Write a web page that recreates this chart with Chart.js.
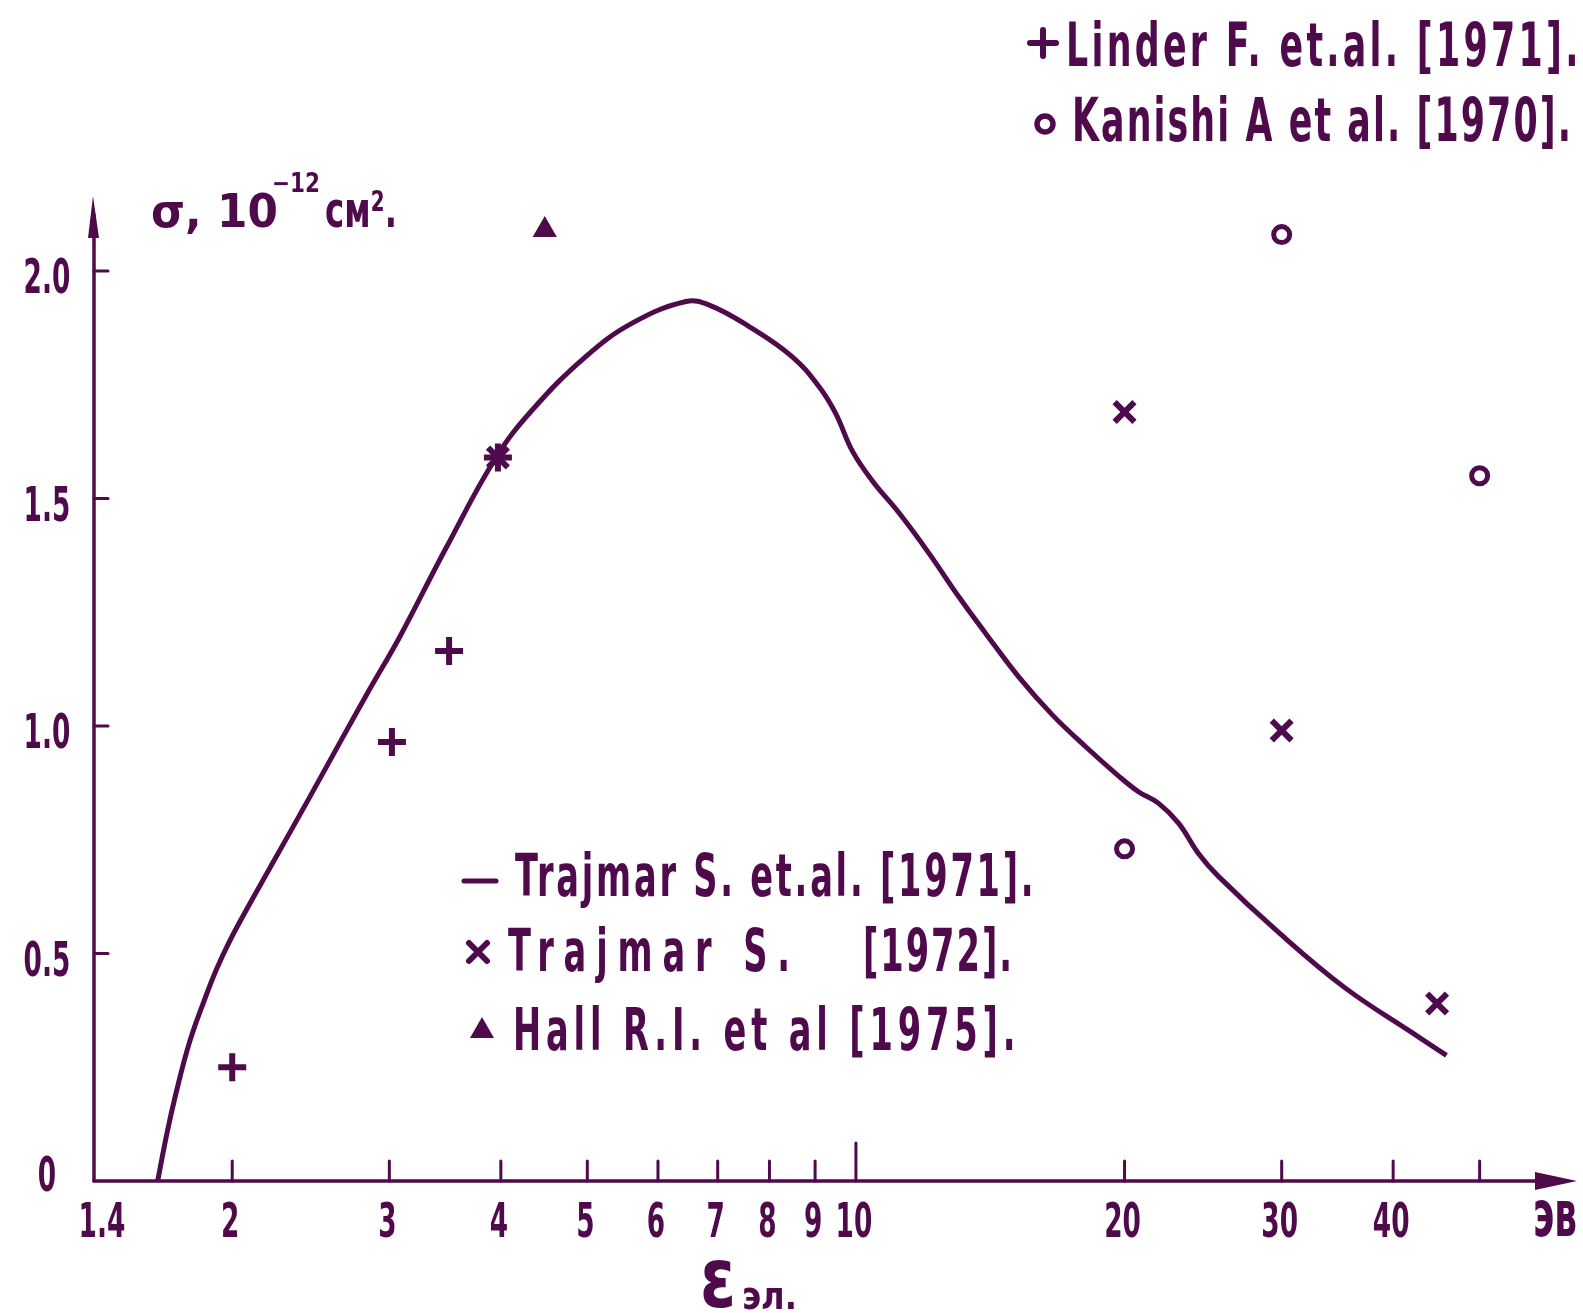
<!DOCTYPE html>
<html>
<head>
<meta charset="utf-8">
<script src="https://cdn.jsdelivr.net/npm/chart.js@4.4.1/dist/chart.umd.min.js"></script>
<style>
  html, body { margin: 0; padding: 0; background: #fff; }
  canvas { display: block; }
</style>
</head>
<body>
<canvas id="chart" width="1583" height="1313"></canvas>
<script>
// Trajmar S. et al. [1971] - smooth curve, energy in eV, sigma in 1e-12 cm^2
const curveEnergy = [1.65, 1.69, 1.73, 1.79, 1.86, 1.92, 1.99, 2.08, 2.20, 2.44, 2.66, 2.85, 3.08, 3.47, 3.95,
  4.34, 4.98, 5.62, 6.45, 6.85, 7.59, 8.48, 9.09, 9.49, 9.91, 10.43, 11.18, 12.07, 13.04, 13.97,
  15.22, 16.59, 18.08, 19.7, 20.75, 21.84, 23.0, 24.2, 25.5, 29.7, 35.3, 42.0, 45.9];
const curveSigma = [0, 0.105, 0.193, 0.303, 0.396, 0.465, 0.53, 0.60, 0.685, 0.842, 0.975, 1.08, 1.195, 1.39, 1.59,
  1.695, 1.812, 1.886, 1.933, 1.925, 1.878, 1.812, 1.746, 1.687, 1.604, 1.539, 1.468, 1.38, 1.284, 1.204,
  1.108, 1.025, 0.955, 0.89, 0.855, 0.83, 0.786, 0.72, 0.669, 0.548, 0.425, 0.326, 0.276];

// Linder F. et al. [1971]  (+)
const linderEnergy = [2.0, 3.02, 3.5, 3.97];
const linderSigma = [0.25, 0.965, 1.165, 1.59];
// Kanishi A. et al. [1970]  (o)
const kanishiEnergy = [20, 30, 50];
const kanishiSigma = [0.73, 2.08, 1.55];
// Trajmar S. [1972]  (x)
const trajmar72Energy = [3.97, 20, 30, 44.8];
const trajmar72Sigma = [1.59, 1.69, 0.99, 0.39];
// Hall R.I. et al. [1975]  (triangle)
const hallEnergy = [4.48];
const hallSigma = [2.09];

const xTicks = [1.4, 2, 3, 4, 5, 6, 7, 8, 9, 10, 20, 30, 40, 50];
const xTickLabels = ['1.4', '2', '3', '4', '5', '6', '7', '8', '9', '10', '20', '30', '40', ''];
const yTicks = [0, 0.5, 1.0, 1.5, 2.0];
const yTickLabels = ['0', '0.5', '1.0', '1.5', '2.0'];

const INK = '#4f0a4c';
const FONT = '"DejaVu Sans"';

const toXY = (xs, ys) => xs.map((x, i) => ({ x: x, y: ys[i] }));

// draw text squeezed to a given width (left edge x, baseline y)
function fitText(ctx, text, x, y, width, size) {
  ctx.save();
  ctx.font = 'bold ' + size + 'px ' + FONT;
  const w = ctx.measureText(text).width;
  ctx.translate(x, y);
  ctx.scale(width / w, 1);
  ctx.textAlign = 'left';
  ctx.textBaseline = 'alphabetic';
  ctx.fillText(text, 0, 0);
  ctx.restore();
}

// narrow glyphs, letter spacing stretched to fill the width (handwritten look)
function spacedText(ctx, text, x, y, width, size, k) {
  ctx.save();
  ctx.font = 'bold ' + size + 'px ' + FONT;
  const w = ctx.measureText(text).width;
  ctx.translate(x, y);
  ctx.textAlign = 'left';
  ctx.textBaseline = 'alphabetic';
  if ('letterSpacing' in ctx) {
    ctx.scale(k, 1);
    ctx.letterSpacing = ((width / k - w) / (text.length - 0.5)) + 'px';
  } else {
    ctx.scale(width / w, 1);
  }
  ctx.fillText(text, 0, 0);
  ctx.restore();
}

// centered text with a fixed horizontal squeeze
function squeezeText(ctx, text, cx, y, size, k) {
  ctx.save();
  ctx.font = 'bold ' + size + 'px ' + FONT;
  ctx.translate(cx, y);
  ctx.scale(k, 1);
  ctx.textAlign = 'center';
  ctx.textBaseline = 'alphabetic';
  ctx.fillText(text, 0, 0);
  ctx.restore();
}

function plus(ctx, x, y, r, w) {
  ctx.lineWidth = w;
  ctx.beginPath();
  ctx.moveTo(x - r, y); ctx.lineTo(x + r, y);
  ctx.moveTo(x, y - r); ctx.lineTo(x, y + r);
  ctx.stroke();
}
function cross(ctx, x, y, r, w) {
  ctx.lineWidth = w;
  ctx.beginPath();
  ctx.moveTo(x - r, y - r); ctx.lineTo(x + r, y + r);
  ctx.moveTo(x - r, y + r); ctx.lineTo(x + r, y - r);
  ctx.stroke();
}

const axesPlugin = {
  id: 'handAxes',
  beforeDatasetsDraw(chart) {
    const ctx = chart.ctx;
    const xs = chart.scales.x, ys = chart.scales.y;
    const x0 = xs.getPixelForValue(1.4);
    const y0 = ys.getPixelForValue(0);
    ctx.save();
    ctx.strokeStyle = INK;
    ctx.fillStyle = INK;
    ctx.lineCap = 'round';
    ctx.lineWidth = 3.5;
    // y axis with arrow
    ctx.beginPath();
    ctx.moveTo(x0, y0);
    ctx.lineTo(x0, 215);
    ctx.stroke();
    ctx.beginPath();
    ctx.moveTo(x0 - 1, 196);
    ctx.lineTo(x0 + 5, 238);
    ctx.lineTo(x0 - 6, 238);
    ctx.closePath();
    ctx.fill();
    // x axis with arrow
    ctx.beginPath();
    ctx.moveTo(x0, y0);
    ctx.lineTo(1545, y0);
    ctx.stroke();
    ctx.beginPath();
    ctx.moveTo(1577, y0);
    ctx.lineTo(1535, y0 - 9);
    ctx.lineTo(1535, y0 + 9);
    ctx.closePath();
    ctx.fill();
    // ticks
    ctx.lineWidth = 3;
    yTicks.forEach((v) => {
      if (v === 0) return;
      const p = ys.getPixelForValue(v);
      ctx.beginPath();
      ctx.moveTo(x0, p);
      ctx.lineTo(x0 + 14, p);
      ctx.stroke();
    });
    xTicks.forEach((v) => {
      if (v === 1.4) return;
      const p = xs.getPixelForValue(v);
      ctx.beginPath();
      ctx.moveTo(p, y0);
      ctx.lineTo(p, y0 - (v === 10 ? 38 : 20));
      ctx.stroke();
    });
    ctx.restore();
  },
  afterDraw(chart) {
    const ctx = chart.ctx;
    const xs = chart.scales.x, ys = chart.scales.y;
    const y0 = ys.getPixelForValue(0);
    ctx.save();
    ctx.fillStyle = INK;
    ctx.strokeStyle = INK;
    ctx.lineCap = 'round';

    // tick labels
    yTicks.forEach((v, i) => {
      const p = ys.getPixelForValue(v);
      squeezeText(ctx, yTickLabels[i], 47, p + (v === 0 ? 10 : 22), 48, 0.55);
    });
    xTicks.forEach((v, i) => {
      if (!xTickLabels[i]) return;
      const dx = v === 1.4 ? 8 : -2;
      squeezeText(ctx, xTickLabels[i], xs.getPixelForValue(v) + dx, y0 + 56, 48, 0.55);
    });
    fitText(ctx, 'эв', 1533, y0 + 55, 44, 64);

    // axis titles
    fitText(ctx, 'σ, 10', 151, 227, 127, 46);
    fitText(ctx, '−12', 272, 192, 48, 26);
    fitText(ctx, 'см².', 325, 227, 72, 50);
    fitText(ctx, 'ε', 700, 1307, 36, 84);
    fitText(ctx, 'эл.', 742, 1309, 55, 38);

    // legend, top right
    plus(ctx, 1043, 43, 13, 6);
    spacedText(ctx, 'Linder F. et.al. [1971].', 1066, 66, 514, 60, 0.58);
    ctx.lineWidth = 5.5;
    ctx.beginPath();
    ctx.arc(1045, 124, 8, 0, Math.PI * 2);
    ctx.stroke();
    spacedText(ctx, 'Kanishi A et al. [1970].', 1072, 141, 500, 60, 0.58);

    // legend, inside plot
    ctx.lineWidth = 5;
    ctx.beginPath();
    ctx.moveTo(464, 881); ctx.lineTo(496, 881);
    ctx.stroke();
    spacedText(ctx, 'Trajmar S. et.al. [1971].', 515, 896, 520, 58, 0.58);
    cross(ctx, 478, 952, 9, 6);
    spacedText(ctx, 'Trajmar S.', 508, 971, 287, 58, 0.58);
    spacedText(ctx, '[1972].', 863, 971, 150, 58, 0.58);
    ctx.beginPath();
    ctx.moveTo(482, 1017); ctx.lineTo(494, 1038); ctx.lineTo(470, 1038);
    ctx.closePath();
    ctx.fill();
    spacedText(ctx, 'Hall R.I. et al [1975].', 513, 1050, 505, 58, 0.58);
    ctx.restore();
  }
};

new Chart(document.getElementById('chart'), {
  type: 'scatter',
  data: {
    datasets: [{
      label: 'Trajmar S. et.al. [1971]',
      data: toXY(curveEnergy, curveSigma),
      showLine: true,
      borderColor: INK,
      borderWidth: 5,
      pointRadius: 0,
      tension: 0.4
    }, {
      label: 'Linder F. et.al. [1971]',
      data: toXY(linderEnergy, linderSigma),
      pointStyle: 'cross',
      pointRadius: 14,
      borderWidth: 6,
      borderColor: INK
    }, {
      label: 'Kanishi A et al. [1970]',
      data: toXY(kanishiEnergy, kanishiSigma),
      pointStyle: 'circle',
      pointRadius: 8,
      borderWidth: 5,
      borderColor: INK,
      backgroundColor: '#fff'
    }, {
      label: 'Trajmar S. [1972]',
      data: toXY(trajmar72Energy, trajmar72Sigma),
      pointStyle: 'crossRot',
      pointRadius: 14,
      borderWidth: 6,
      borderColor: INK
    }, {
      label: 'Hall R.I. et al [1975]',
      data: toXY(hallEnergy, hallSigma),
      pointStyle: 'triangle',
      pointRadius: 12,
      borderWidth: 2,
      borderColor: INK,
      backgroundColor: INK
    }]
  },
  options: {
    responsive: false,
    animation: false,
    layout: { padding: { left: 94, right: 6, top: 180, bottom: 132 } },
    plugins: { legend: { display: false }, tooltip: { enabled: false } },
    scales: {
      x: { type: 'logarithmic', min: 1.4, max: 62, bounds: 'data', display: false },
      y: { type: 'linear', min: 0, max: 2.2, display: false }
    }
  },
  plugins: [axesPlugin]
});
</script>
</body>
</html>
